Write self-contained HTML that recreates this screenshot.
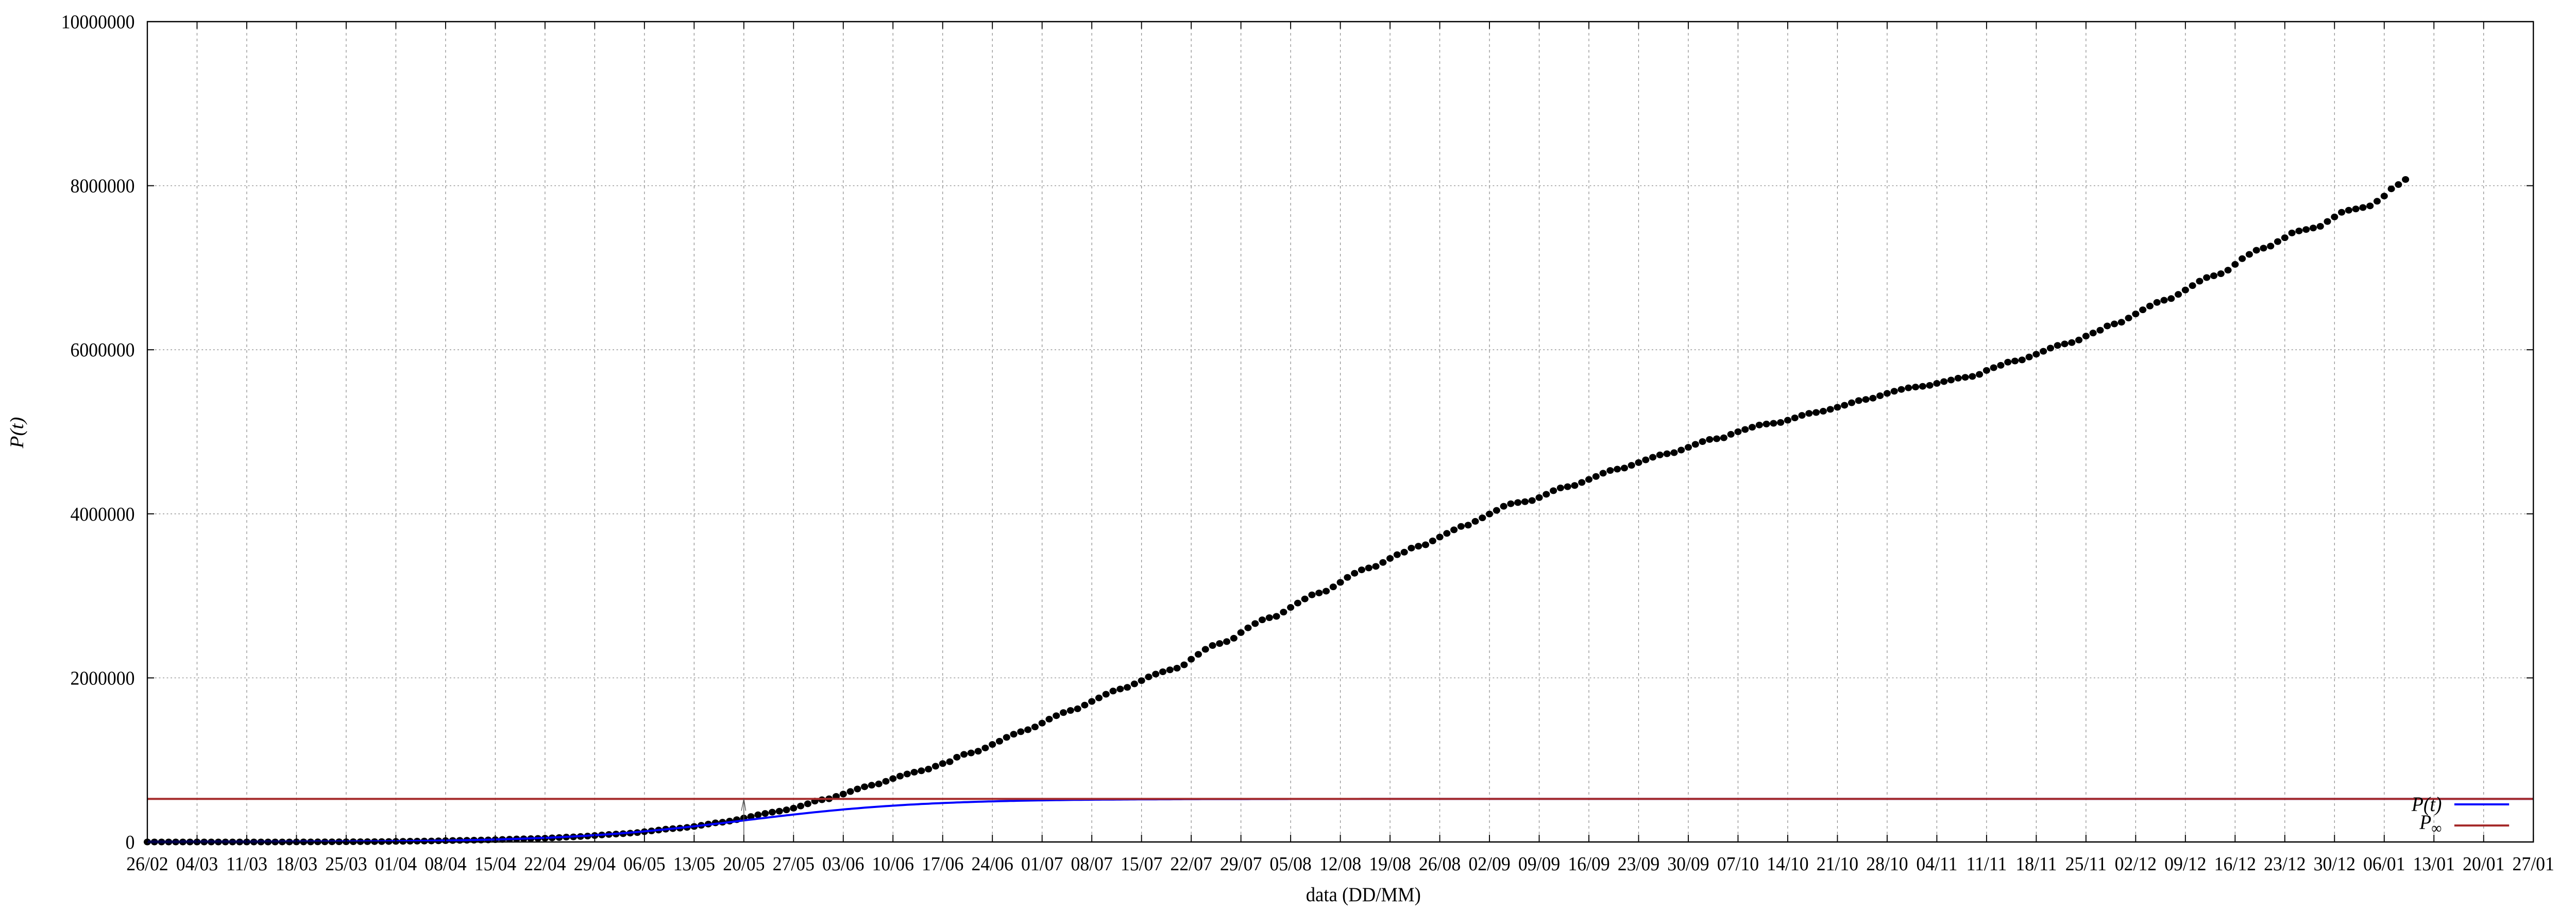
<!DOCTYPE html>
<html><head><meta charset="utf-8"><style>
html,body{margin:0;padding:0;background:#fff;overflow:hidden;width:100%;height:100%;}
svg{display:block;width:100vw;height:100vh;}
text{font-family:"Liberation Serif",serif;fill:#000;}
</style></head><body>
<svg id="chart" viewBox="0 0 5315 1771" preserveAspectRatio="none" xmlns="http://www.w3.org/2000/svg">
<rect x="0" y="0" width="5315" height="1771" fill="#fff"/>
<g id="grid"></g>
<g id="series"></g>
<g id="axes"></g>
<text x="2813" y="1750" font-size="39" text-anchor="middle">data (DD/MM)</text>
<text transform="translate(48,840) rotate(-90)" font-size="39" font-style="italic" text-anchor="middle">P(t)</text>
<g>
<text x="5038" y="1575" font-size="40" font-style="italic" text-anchor="end">P(t)</text>
<line x1="5064" y1="1562" x2="5177" y2="1562" stroke="#0000ff" stroke-width="4"/>
<text x="5038" y="1610" font-size="40" font-style="italic" text-anchor="end">P<tspan font-size="30" dy="8" font-style="normal">∞</tspan></text>
<line x1="5064" y1="1603" x2="5177" y2="1603" stroke="#a52a2a" stroke-width="4"/>
</g>
</svg>
<script>
const xTickLabels = ["26/02","04/03","11/03","18/03","25/03","01/04","08/04","15/04","22/04","29/04","06/05","13/05","20/05","27/05","03/06","10/06","17/06","24/06","01/07","08/07","15/07","22/07","29/07","05/08","12/08","19/08","26/08","02/09","09/09","16/09","23/09","30/09","07/10","14/10","21/10","28/10","04/11","11/11","18/11","25/11","02/12","09/12","16/12","23/12","30/12","06/01","13/01","20/01","27/01"];
const yTickValues = [0,2000000,4000000,6000000,8000000,10000000];
const yTickLabels = ["0","2000000","4000000","6000000","8000000","10000000"];
const casesDaily = [1,1,1,2,2,2,2,3,8,13,19,25,25,34,52,77,151,151,200,234,346,529,640,970,1178,1546,1924,2247,2554,2985,3417,3904,4256,4579,5717,6836,8044,9056,10360,11130,12161,14034,16170,18092,19638,20727,22169,23430,25262,28320,30425,33682,36599,38654,40581,43079,45757,50036,54043,59324,61888,66501,71886,78162,85380,91589,96559,101147,107780,114715,125218,135106,145328,155939,162699,168331,177589,188974,202918,218223,233142,241080,254220,271628,291579,310087,330890,347398,363211,374898,391222,411821,438238,465166,498440,514849,526447,555383,584016,614941,645771,672846,691758,707412,739503,772416,802828,828810,850514,867624,888271,923189,955377,978142,1032913,1067579,1085038,1106470,1145906,1188631,1228114,1274974,1313667,1344143,1368195,1402041,1448753,1496858,1539081,1577004,1603055,1623284,1668589,1713160,1755779,1800827,1839850,1864681,1884967,1926824,1966748,2012151,2046328,2074860,2098389,2118646,2159654,2227514,2287475,2348200,2394513,2419091,2442375,2483191,2552265,2610102,2662485,2707877,2733677,2750318,2801921,2859073,2912212,2962442,3012412,3035422,3057470,3109630,3164785,3224876,3275520,3317096,3340197,3359570,3407354,3456652,3501975,3532330,3582362,3605783,3622861,3669995,3717156,3761391,3804803,3846153,3862311,3908272,3950931,3997865,4041638,4091801,4123000,4137521,4147794,4162073,4197889,4238446,4282164,4315687,4330455,4345610,4382263,4419083,4455386,4495183,4528240,4544629,4558040,4591364,4624885,4657702,4689613,4717991,4732309,4745464,4777522,4810935,4847092,4880523,4906833,4915289,4927235,4969141,5000694,5028444,5055888,5082637,5094979,5103408,5113628,5140863,5169386,5200300,5224362,5235344,5250727,5273954,5298772,5323630,5353656,5380635,5394128,5409854,5439641,5468270,5494376,5516658,5535605,5545705,5554206,5566049,5590025,5612319,5631181,5653561,5664115,5675032,5700044,5747660,5781582,5810652,5848959,5863093,5876464,5911758,5945849,5981767,6020164,6052786,6071401,6087608,6118708,6166606,6204220,6238350,6290272,6314740,6335878,6386787,6436650,6487084,6533302,6577177,6603540,6623911,6674999,6728452,6781799,6836227,6880127,6901952,6927145,6970034,7040608,7110434,7162978,7213155,7238600,7263619,7318821,7365517,7423945,7448560,7465806,7484285,7504833,7563551,7619200,7675973,7700578,7716405,7733746,7753752,7810400,7873830,7961673,8013708,8075998];
const pInfinity = [525000];
const logisticRate = [0.08];
const logisticMidDay = [84];
const markerDay = [84];

const NS="http://www.w3.org/2000/svg";
const L=304,R=5227,T=42,B=1635;
const totalDays=(xTickLabels.length-1)*7;
const xs=d=>L+(R-L)*d/totalDays;
const ys=v=>B-(B-T)*v/10000000;
function mk(tag,attrs,parent){const e=document.createElementNS(NS,tag);for(const k in attrs)e.setAttribute(k,attrs[k]);parent.appendChild(e);return e;}
const grid=document.getElementById('grid'),axes=document.getElementById('axes'),ser=document.getElementById('series');

xTickLabels.forEach((lab,i)=>{
  const x=xs(i*7);
  if(i>0&&i<xTickLabels.length-1){
    const g=mk('line',{x1:x,y1:T,x2:x,y2:B,stroke:'#888','stroke-width':1.3,'stroke-dasharray':'5,6'},grid);
    
    
  }
  const t1=mk('line',{x1:x,y1:B,x2:x,y2:B-14,stroke:'#000','stroke-width':2},axes);
  
  
  const t2=mk('line',{x1:x,y1:T,x2:x,y2:T+14,stroke:'#000','stroke-width':2},axes);
  
  
  const tx=mk('text',{x:x,y:1690,'font-size':38,'text-anchor':'middle'},axes);
  tx.textContent=lab;
  
  
});
yTickValues.forEach((v,i)=>{
  const y=ys(v);
  if(i>0&&i<yTickValues.length-1){
    const g=mk('line',{x1:L,y1:y,x2:R,y2:y,stroke:'#888','stroke-width':1.3,'stroke-dasharray':'3,5'},grid);
    
    
  }
  const t1=mk('line',{x1:L,y1:y,x2:L+14,y2:y,stroke:'#000','stroke-width':2},axes);
  
  
  const t2=mk('line',{x1:R,y1:y,x2:R-14,y2:y,stroke:'#000','stroke-width':2},axes);
  
  
  const tx=mk('text',{x:278,y:y+13,'font-size':38,'text-anchor':'end'},axes);
  tx.textContent=yTickLabels[i];
  
  
});
const frame=mk('rect',{x:L,y:T,width:R-L,height:B-T,fill:'none',stroke:'#000','stroke-width':2.5},axes);



casesDaily.forEach((v,d)=>{
  const c=mk('ellipse',{cx:xs(d),cy:ys(v),rx:7.5,ry:6.5,fill:'#000'},ser);
  
  
});
let pts=[];
for(let d=0;d<=totalDays;d+=0.5){
  const v=pInfinity[0]/(1+Math.exp(-logisticRate[0]*(d-logisticMidDay[0])));
  pts.push(xs(d).toFixed(1)+','+ys(v).toFixed(1));
}
const fit=mk('polyline',{points:pts.join(' '),fill:'none',stroke:'#0000ff','stroke-width':4},ser);


const red=mk('line',{x1:L,y1:ys(pInfinity[0]),x2:R,y2:ys(pInfinity[0]),stroke:'#a52a2a','stroke-width':4},ser);


const ax=xs(markerDay[0]),ay=ys(pInfinity[0]);
const arr=mk('path',{d:`M${ax},${B} L${ax},${ay} M${ax-5},${ay+23} L${ax},${ay} L${ax+4},${ay+23}`,fill:'none',stroke:'#555','stroke-width':1.5},ser);


</script>
</body></html>
